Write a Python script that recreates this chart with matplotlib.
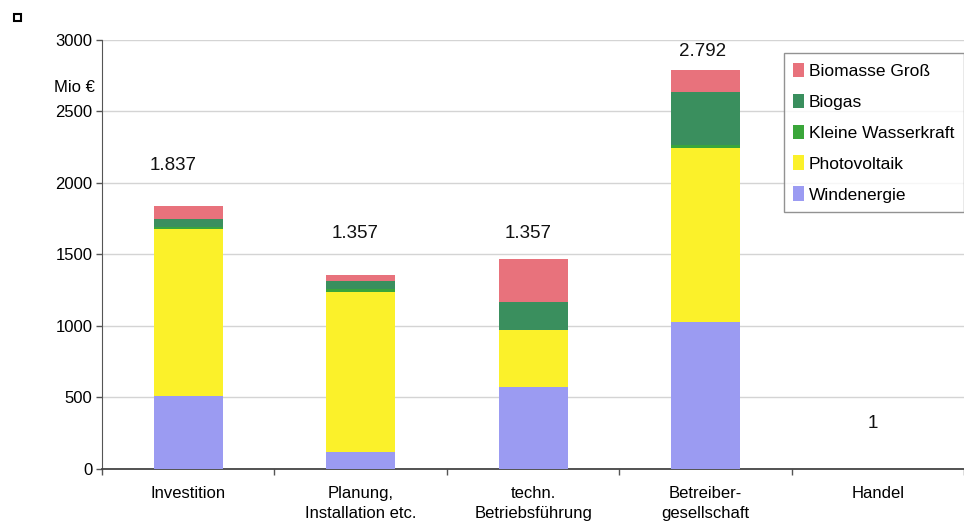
import numpy as np
import matplotlib
matplotlib.use('Agg')
import matplotlib.pyplot as plt
from matplotlib.patches import Rectangle

plt.rcParams['font.family'] = ['Liberation Sans', 'DejaVu Sans']

categories = ['Investition', 'Planung,\nInstallation etc.', 'techn.\nBetriebsführung',
              'Betreiber-\ngesellschaft', 'Handel']
series = ['Windenergie', 'Photovoltaik', 'Kleine Wasserkraft', 'Biogas', 'Biomasse Groß']
windenergie = [513, 120, 570, 1025, 0]
photovoltaik = [1167, 1115, 405, 1222, 0]
kleine_wasserkraft = [14, 25, 0, 16, 0]
biogas = [56, 57, 190, 373, 0]
biomasse_gross = [87, 40, 305, 156, 1]
total_labels = ['1.837', '1.357', '1.357', '2.792', '1']

colors = ['#9b9bf2', '#fbf12a', '#3aa63a', '#3a8f5e', '#e8727c']

# where the total labels sit (x offset from category centre, y in Mio €)
label_dx = [-0.09, -0.03, -0.03, -0.02, -0.03]
label_y = [2121, 1645, 1645, 2919, 315]

fig = plt.figure(figsize=(9.64, 5.24), dpi=100)
ax = fig.add_axes([0.1058, 0.105, 0.8947, 0.8187])

x = np.arange(len(categories))
bottom = np.zeros(len(categories))
for name, vals, col in zip(series, [windenergie, photovoltaik, kleine_wasserkraft, biogas, biomasse_gross], colors):
    ax.bar(x, vals, width=0.4, bottom=bottom, color=col, label=name, zorder=3)
    bottom += np.array(vals)

for i, txt in enumerate(total_labels):
    ax.text(x[i] + label_dx[i], label_y[i], txt, ha='center', va='center', fontsize=13.5, color='#111111')

ax.set_xlim(-0.5, 4.5)
ax.set_ylim(0, 3000)
ax.set_yticks(np.arange(0, 3001, 500))
ax.tick_params(axis='y', labelsize=12, length=4, width=1, color='#555555', pad=3)
ax.yaxis.grid(True, color='#d4d4d4', linewidth=1, zorder=0)

ax.set_xticks(x)
ax.set_xticklabels(categories, fontsize=12, linespacing=1.45)
ax.tick_params(axis='x', length=0, pad=12)
ax.set_xticks(np.arange(-0.5, 4.6, 1), minor=True)
ax.tick_params(axis='x', which='minor', length=4, width=1, color='#555555')

for s in ['top', 'right']:
    ax.spines[s].set_visible(False)
ax.spines['left'].set_color('#555555')
ax.spines['bottom'].set_color('#444444')
ax.spines['bottom'].set_linewidth(1.3)

ax.text(-0.032, 0.89, 'Mio €', transform=ax.transAxes, ha='center', va='center', fontsize=12)

h, l = ax.get_legend_handles_labels()
leg = ax.legend(h[::-1], l[::-1], loc='upper right', bbox_to_anchor=(0.999, 0.9695),
                fontsize=12.5, frameon=True, fancybox=False, handlelength=0.65, handleheight=0.9,
                handletextpad=0.25, labelspacing=0.85, borderpad=0.55, borderaxespad=0)
leg.get_frame().set_edgecolor('#777777')
leg.get_frame().set_linewidth(1.0)

fig.patches.append(Rectangle((14 / 964, 1 - 21 / 524), 7 / 964, 7 / 524, transform=fig.transFigure,
                             fill=False, edgecolor='black', linewidth=1.5))

fig.savefig('out.png', dpi=100)
